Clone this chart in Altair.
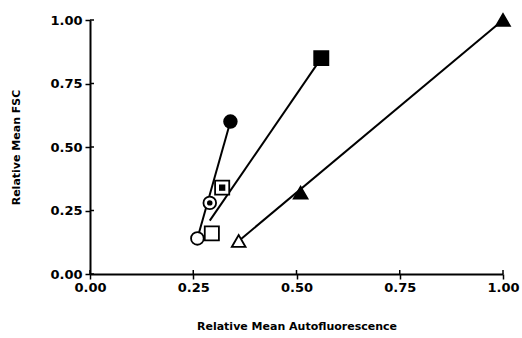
import altair as alt
import pandas as pd

# Data
circle_x = [0.26, 0.29, 0.34]
circle_y = [0.14, 0.28, 0.60]
circle_style = ["open", "dot", "filled"]
square_x = [0.295, 0.32, 0.56]
square_y = [0.16, 0.34, 0.85]
square_style = ["open", "dot", "filled"]
tri_x = [0.36, 0.51, 1.00]
tri_y = [0.13, 0.32, 1.00]
tri_style = ["open", "filled", "filled"]

# line end points as drawn
circle_line_x = [0.26, 0.34]
circle_line_y = [0.14, 0.60]
square_line_x = [0.29, 0.56]
square_line_y = [0.21, 0.85]
tri_line_x = [0.36, 1.00]
tri_line_y = [0.13, 1.00]

ticks = [0.0, 0.25, 0.5, 0.75, 1.0]

rows = []
for xs, ys, sts, shp in [(circle_x, circle_y, circle_style, "circle"),
                         (square_x, square_y, square_style, "square"),
                         (tri_x, tri_y, tri_style, "triangle-up")]:
    for x, y, s in zip(xs, ys, sts):
        rows.append({"x": x, "y": y, "shape": shp, "style": s,
                     "fill": "black" if s == "filled" else "white"})
pts = pd.DataFrame(rows)

lines = []
for name, lx, ly in [("c", circle_line_x, circle_line_y), ("s", square_line_x, square_line_y), ("t", tri_line_x, tri_line_y)]:
    for i, (x, y) in enumerate(zip(lx, ly)):
        lines.append({"series": name, "x": x, "y": y, "order": i})
lines = pd.DataFrame(lines)
tick_df = pd.DataFrame({"t": ticks})

xscale = alt.Scale(domain=[0, 1], nice=False)
yscale = alt.Scale(domain=[0, 1], nice=False)

axis_common = dict(
    values=ticks, format=".2f", grid=False, domainColor="black", domainWidth=2,
    tickColor="black", tickWidth=1.5, tickSize=5, labelFlush=False, labelFont="DejaVu Sans",
    labelFontWeight="bold", labelFontSize=13, labelColor="black",
    titleFont="DejaVu Sans", titleFontWeight="bold", titleFontSize=11, titleColor="black",
)

X = alt.X("x:Q", scale=xscale, axis=alt.Axis(title="Relative Mean Autofluorescence",
                                             labelPadding=2, titlePadding=26, **axis_common))
Y = alt.Y("y:Q", scale=yscale, axis=alt.Axis(title="Relative Mean FSC",
                                             labelPadding=3, titlePadding=28, **axis_common))

line_layer = alt.Chart(lines).mark_line(color="black", strokeWidth=2).encode(
    x=X, y=Y, detail="series:N", order="order:Q")

# inner halves of the crossing ticks
xin = alt.Chart(tick_df).mark_rule(color="black", strokeWidth=1.5).encode(
    x=alt.X("t:Q", scale=xscale), y=alt.value(254), y2=alt.value(250))
yin = alt.Chart(tick_df).mark_rule(color="black", strokeWidth=1.5).encode(
    y=alt.Y("t:Q", scale=yscale), x=alt.value(0), x2=alt.value(4))

big_circ = alt.Chart(pts[pts["shape"] == "circle"]).mark_point(
    shape="circle", size=160, stroke="black", strokeWidth=1.8, opacity=1).encode(
    x="x:Q", y="y:Q", fill=alt.Fill("fill:N", scale=None))
big_sq = alt.Chart(pts[pts["shape"] == "square"]).mark_point(
    shape="square", size=200, stroke="black", strokeWidth=1.8, opacity=1).encode(
    x="x:Q", y="y:Q", fill=alt.Fill("fill:N", scale=None))
big_tri = alt.Chart(pts[pts["shape"] == "triangle-up"]).mark_point(
    shape="triangle-up", size=190, stroke="black", strokeWidth=1.8, opacity=1).encode(
    x="x:Q", y="y:Q", fill=alt.Fill("fill:N", scale=None))

dots = pts[pts["style"] == "dot"]
dot_circ = alt.Chart(dots[dots["shape"] == "circle"]).mark_point(
    shape="circle", size=30, filled=True, color="black", opacity=1).encode(x="x:Q", y="y:Q")
dot_sq = alt.Chart(dots[dots["shape"] == "square"]).mark_point(
    shape="square", size=40, filled=True, color="black", opacity=1).encode(x="x:Q", y="y:Q")

chart = alt.layer(line_layer, xin, yin, big_circ, big_sq, big_tri, dot_circ, dot_sq).properties(
    width=413, height=254,
    autosize=alt.AutoSizeParams(type="none"),
    padding={"left": 90, "top": 20, "right": 19, "bottom": 64},
    background="white",
).configure_view(stroke=None)

chart.save("out.html", embed_options={"renderer": "svg", "actions": False})
